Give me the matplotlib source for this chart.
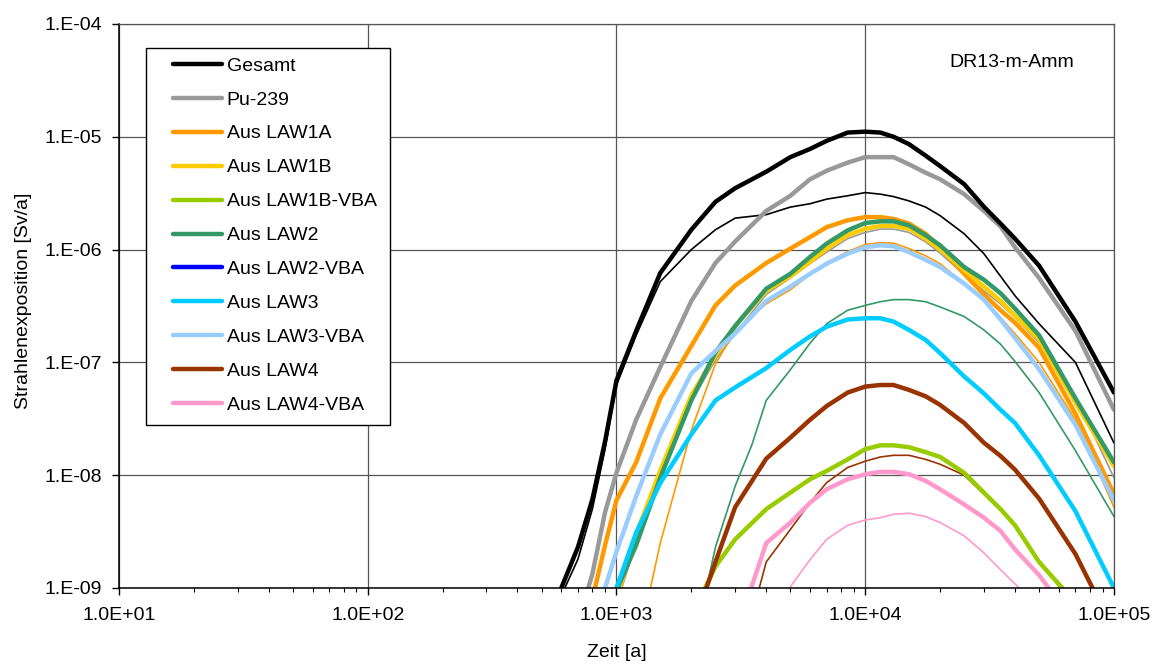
import math
import matplotlib.pyplot as plt
from matplotlib.ticker import FixedLocator, FuncFormatter, LogLocator, NullLocator
from matplotlib.patches import Rectangle

plt.rcParams['font.family'] = ['Liberation Sans', 'DejaVu Sans']
plt.rcParams['font.size'] = 14

# data: time [a] and dose rate [Sv/a]
t_mid = [5000, 6000, 7000, 8500, 10000, 11500, 13000, 15000, 17500, 20000, 25000, 30000, 35000]
t_tail = [40000, 50000, 70000, 100000]

t_gesamt = [600, 700, 800, 900, 1000, 1200, 1500, 2000, 2500, 3000, 4000] + t_mid + t_tail
y_gesamt = [1.0e-9, 2.3e-9, 6.1e-9, 2.0e-8, 6.9e-8, 1.9e-7, 6.2e-7, 1.5e-6, 2.65e-6, 3.5e-6, 4.9e-6,
            6.6e-6, 7.8e-6, 9.2e-6, 1.09e-5, 1.11e-5, 1.09e-5, 1.0e-5, 8.6e-6, 6.8e-6, 5.5e-6, 3.8e-6, 2.4e-6, 1.7e-6,
            1.25e-6, 7.2e-7, 2.3e-7, 5.4e-8]

t_pu239 = [770, 800, 900, 1000, 1200, 1500, 2000, 2500, 3000, 4000] + t_mid + t_tail
y_pu239 = [1.0e-9, 1.33e-9, 4.7e-9, 1.05e-8, 3.1e-8, 9.1e-8, 3.5e-7, 7.6e-7, 1.18e-6, 2.2e-6,
           3.0e-6, 4.2e-6, 5.0e-6, 5.9e-6, 6.6e-6, 6.6e-6, 6.6e-6, 5.7e-6, 4.8e-6, 4.2e-6, 3.1e-6, 2.2e-6, 1.6e-6,
           1.05e-6, 5.6e-7, 1.9e-7, 3.8e-8]

t_law1a = [820, 900, 1000, 1200, 1500, 2000, 2500, 3000, 4000] + t_mid + t_tail
y_law1a = [1.0e-9, 2.4e-9, 6.0e-9, 1.3e-8, 4.8e-8, 1.4e-7, 3.2e-7, 4.8e-7, 7.6e-7,
           1.02e-6, 1.29e-6, 1.58e-6, 1.82e-6, 1.94e-6, 1.94e-6, 1.87e-6, 1.7e-6, 1.38e-6, 1.05e-6, 6.1e-7, 4.0e-7, 2.9e-7,
           2.25e-7, 1.35e-7, 3.5e-8, 6.8e-9]

t_law1b = [1030, 1200, 1500, 2000, 2500, 3000, 4000] + t_mid + t_tail
y_law1b = [1.0e-9, 3.0e-9, 1.1e-8, 5.1e-8, 1.15e-7, 2.1e-7, 4.3e-7,
           5.8e-7, 7.8e-7, 1.02e-6, 1.34e-6, 1.53e-6, 1.62e-6, 1.62e-6, 1.53e-6, 1.25e-6, 1.0e-6, 6.6e-7, 4.7e-7, 3.5e-7,
           2.6e-7, 1.6e-7, 4.4e-8, 1.2e-8]

t_law1b_vba = [2270, 2500, 3000, 4000] + t_mid + [40000, 50000, 62000]
y_law1b_vba = [1.0e-9, 1.55e-9, 2.7e-9, 5.0e-9,
               7.0e-9, 9.2e-9, 1.09e-8, 1.38e-8, 1.7e-8, 1.84e-8, 1.84e-8, 1.77e-8, 1.6e-8, 1.45e-8, 1.05e-8, 7.0e-9, 5.0e-9,
               3.6e-9, 1.7e-9, 1.0e-9]

t_law2 = [1010, 1200, 1500, 2000, 2500, 3000, 4000] + t_mid + t_tail
y_law2 = [1.0e-9, 2.4e-9, 9.5e-9, 4.6e-8, 1.23e-7, 2.1e-7, 4.5e-7,
          6.1e-7, 8.6e-7, 1.13e-6, 1.48e-6, 1.72e-6, 1.78e-6, 1.78e-6, 1.64e-6, 1.34e-6, 1.09e-6, 7.0e-7, 5.4e-7, 4.1e-7,
          3.0e-7, 1.74e-7, 4.8e-8, 1.3e-8]

t_law2_vba = []
y_law2_vba = []

t_law3 = [1000, 1200, 1500, 2000, 2500, 3000, 4000] + t_mid + t_tail
y_law3 = [1.0e-9, 3.1e-9, 8.5e-9, 2.3e-8, 4.6e-8, 6.0e-8, 8.9e-8,
          1.29e-7, 1.7e-7, 2.07e-7, 2.4e-7, 2.46e-7, 2.46e-7, 2.3e-7, 1.94e-7, 1.58e-7, 1.21e-7, 7.5e-8, 5.3e-8, 3.8e-8,
          2.9e-8, 1.5e-8, 4.8e-9, 1.0e-9]

t_law3_vba = [900, 1000, 1200, 1500, 2000, 2500, 3000, 4000] + t_mid + t_tail
y_law3_vba = [1.0e-9, 2.1e-9, 6.5e-9, 2.3e-8, 8.0e-8, 1.26e-7, 1.8e-7, 3.5e-7,
              4.7e-7, 6.1e-7, 7.5e-7, 9.2e-7, 1.05e-6, 1.09e-6, 1.07e-6, 9.5e-7, 8.1e-7, 7.0e-7, 5.0e-7, 3.6e-7, 2.4e-7,
              1.65e-7, 8.7e-8, 2.8e-8, 6.0e-9]

t_law4 = [2300, 2500, 3000, 4000] + t_mid + [40000, 50000, 70000, 82000]
y_law4 = [1.0e-9, 1.7e-9, 5.2e-9, 1.4e-8,
          2.15e-8, 3.1e-8, 4.1e-8, 5.4e-8, 6.1e-8, 6.3e-8, 6.3e-8, 5.7e-8, 5.0e-8, 4.2e-8, 2.9e-8, 1.94e-8, 1.48e-8,
          1.12e-8, 6.2e-9, 2.0e-9, 1.0e-9]

t_law4_vba = [3480, 4000] + t_mid + [40000, 50000, 54600]
y_law4_vba = [1.0e-9, 2.5e-9,
              3.8e-9, 5.7e-9, 7.5e-9, 9.2e-9, 1.02e-8, 1.07e-8, 1.07e-8, 1.02e-8, 8.9e-9, 7.5e-9, 5.5e-9, 4.2e-9, 3.2e-9,
              2.2e-9, 1.3e-9, 1.0e-9]

# thin companion curves (no legend entry)
t_black_thin = [620, 700, 800, 900, 1000, 1200, 1500, 2000, 2500, 3000, 4000] + t_mid + t_tail
y_black_thin = [1.0e-9, 1.8e-9, 5.0e-9, 1.7e-8, 6.3e-8, 1.74e-7, 5.2e-7, 1.0e-6, 1.5e-6, 1.9e-6, 2.04e-6,
                2.38e-6, 2.55e-6, 2.8e-6, 3.0e-6, 3.2e-6, 3.1e-6, 2.95e-6, 2.7e-6, 2.38e-6, 2.0e-6, 1.38e-6, 9.2e-7, 5.8e-7,
                3.9e-7, 2.2e-7, 1.0e-7, 1.93e-8]

t_gray_thin = [1050, 1200, 1500, 2000, 2500, 3000, 4000] + t_mid + t_tail
y_gray_thin = [1.0e-9, 2.5e-9, 9.0e-9, 4.5e-8, 1.05e-7, 1.8e-7, 4.0e-7,
               5.6e-7, 7.5e-7, 9.5e-7, 1.25e-6, 1.42e-6, 1.52e-6, 1.52e-6, 1.42e-6, 1.17e-6, 9.3e-7, 6.0e-7, 4.3e-7, 3.3e-7,
               2.5e-7, 1.5e-7, 5.0e-8, 9.5e-9]

t_orange_thin = [1370, 1500, 2000, 2500, 3000, 4000] + t_mid + t_tail
y_orange_thin = [1.0e-9, 2.5e-9, 2.5e-8, 9.7e-8, 1.9e-7, 3.3e-7,
                 4.4e-7, 6.0e-7, 7.6e-7, 9.6e-7, 1.11e-6, 1.15e-6, 1.14e-6, 1.02e-6, 8.8e-7, 7.5e-7, 5.0e-7, 3.5e-7, 2.5e-7,
                 1.8e-7, 1.0e-7, 3.1e-8, 5.2e-9]

t_green_thin = [2300, 2500, 3000, 3500, 4000] + t_mid + t_tail
y_green_thin = [1.0e-9, 2.3e-9, 8.0e-9, 1.85e-8, 4.6e-8,
                8.6e-8, 1.48e-7, 2.2e-7, 2.9e-7, 3.2e-7, 3.45e-7, 3.6e-7, 3.6e-7, 3.45e-7, 3.1e-7, 2.55e-7, 1.94e-7, 1.45e-7,
                1.02e-7, 5.4e-8, 1.65e-8, 4.3e-9]

t_brown_thin = [3750, 4000] + t_mid + [40000, 50000, 61000]
y_brown_thin = [1.0e-9, 1.7e-9,
                3.3e-9, 5.7e-9, 8.6e-9, 1.17e-8, 1.33e-8, 1.45e-8, 1.5e-8, 1.5e-8, 1.38e-8, 1.25e-8, 1.0e-8, 6.8e-9, 5.0e-9,
                3.5e-9, 1.7e-9, 1.0e-9]

t_pink_thin = [4960] + t_mid[1:] + [41600]
y_pink_thin = [1.0e-9,
               1.78e-9, 2.7e-9, 3.6e-9, 4.0e-9, 4.2e-9, 4.5e-9, 4.6e-9, 4.3e-9, 3.8e-9, 2.9e-9, 2.05e-9, 1.45e-9,
               1.0e-9]

fig = plt.figure(figsize=(11.54, 6.68), dpi=100)
ax = fig.add_axes([0.1031, 0.1198, 0.8622, 0.8443])

thin = 1.2
thick = 3.2
kw = dict(solid_joinstyle='round', solid_capstyle='round')
ax.plot(t_black_thin, y_black_thin, color='black', lw=thin, **kw)
ax.plot(t_gray_thin, y_gray_thin, color='#999999', lw=thin, **kw)
ax.plot(t_orange_thin, y_orange_thin, color='#FF9900', lw=thin, **kw)
ax.plot(t_green_thin, y_green_thin, color='#339966', lw=thin, **kw)
ax.plot(t_brown_thin, y_brown_thin, color='#993300', lw=thin, **kw)
ax.plot(t_pink_thin, y_pink_thin, color='#FF99CC', lw=thin, **kw)

ax.plot(t_gesamt, y_gesamt, color='black', lw=thick, label='Gesamt', zorder=3, **kw)
ax.plot(t_pu239, y_pu239, color='#999999', lw=thick, label='Pu-239', **kw)
ax.plot(t_law1a, y_law1a, color='#FF9900', lw=thick, label='Aus LAW1A', **kw)
ax.plot(t_law1b, y_law1b, color='#FFCC00', lw=thick, label='Aus LAW1B', **kw)
ax.plot(t_law1b_vba, y_law1b_vba, color='#99CC00', lw=thick, label='Aus LAW1B-VBA', **kw)
ax.plot(t_law2, y_law2, color='#339966', lw=thick, label='Aus LAW2', **kw)
ax.plot(t_law2_vba, y_law2_vba, color='#0000FF', lw=thick, label='Aus LAW2-VBA', **kw)
ax.plot(t_law3, y_law3, color='#00CCFF', lw=thick, label='Aus LAW3', **kw)
ax.plot(t_law3_vba, y_law3_vba, color='#99CCFF', lw=thick, label='Aus LAW3-VBA', **kw)
ax.plot(t_law4, y_law4, color='#993300', lw=thick, label='Aus LAW4', **kw)
ax.plot(t_law4_vba, y_law4_vba, color='#FF99CC', lw=thick, label='Aus LAW4-VBA', **kw)

ax.set_xscale('log')
ax.set_yscale('log')
ax.set_xlim(10, 1e5)
ax.set_ylim(1e-9, 1e-4)

ax.xaxis.set_major_locator(FixedLocator([1e1, 1e2, 1e3, 1e4, 1e5]))
ax.xaxis.set_minor_locator(LogLocator(base=10, subs=range(2, 10)))
ax.yaxis.set_major_locator(FixedLocator([1e-9, 1e-8, 1e-7, 1e-6, 1e-5, 1e-4]))
ax.yaxis.set_minor_locator(NullLocator())
ax.xaxis.set_major_formatter(FuncFormatter(lambda v, p: f'1.0E{round(math.log10(v)):+03d}'))
ax.yaxis.set_major_formatter(FuncFormatter(lambda v, p: f'1.E{round(math.log10(v)):03d}'))
ax.tick_params(which='major', direction='out', length=5, width=1, labelsize=14)
ax.tick_params(axis='x', which='major', pad=8.5)
ax.tick_params(axis='y', which='major', pad=7)
ax.tick_params(which='minor', direction='out', length=3, width=0.8)

ax.grid(True, which='major', color='#555555', lw=0.9)
ax.set_axisbelow(True)
for s in ['top', 'right']:
    ax.spines[s].set_color('#555555')
    ax.spines[s].set_linewidth(0.9)
for s in ['left', 'bottom']:
    ax.spines[s].set_linewidth(1.1)

ax.set_xlabel('Zeit [a]', fontsize=14)
ax.set_ylabel('Strahlenexposition [Sv/a]', fontsize=14)
ax.xaxis.set_label_coords(0.5, -0.099)
ax.yaxis.set_label_coords(-0.087, 0.51)

ax.text(0.8975, 0.931, 'DR13-m-Amm', transform=ax.transAxes, ha='center', va='center', fontsize=14)

# legend box (white, black border) with the entries on top
ax.add_patch(Rectangle((0.027, 0.289), 0.245, 0.668, transform=ax.transAxes,
                       facecolor='white', edgecolor='black', lw=1, zorder=4, clip_on=False))
leg = ax.legend(loc='upper left', bbox_to_anchor=(0.0543, 0.9415), frameon=False,
                borderpad=0, borderaxespad=0, handlelength=2.5, handletextpad=0.26,
                labelspacing=0.84, fontsize=14)
leg.set_zorder(5)

fig.savefig('out.png', dpi=100)
